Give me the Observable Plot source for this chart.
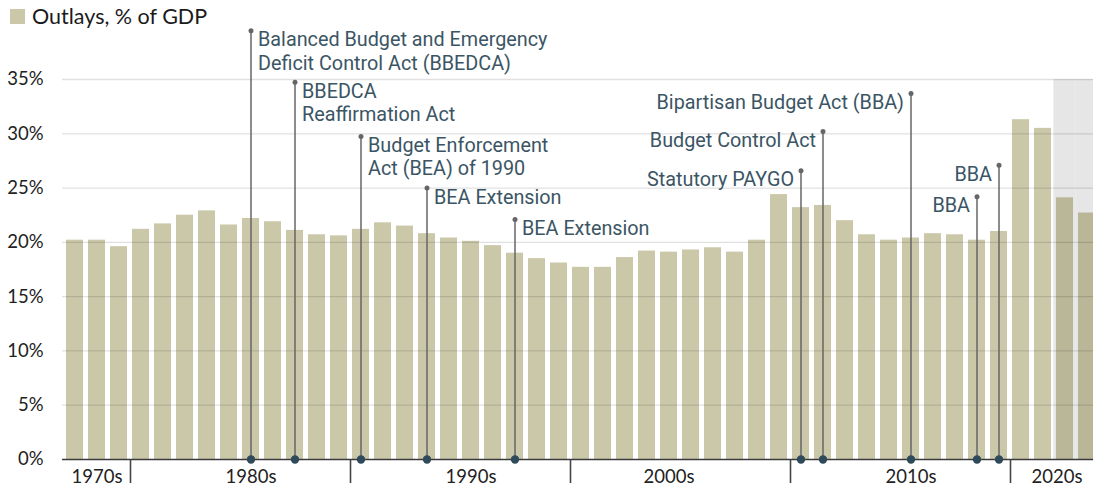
<!DOCTYPE html>
<html>
<head>
<meta charset="utf-8">
<script src="https://cdn.jsdelivr.net/npm/d3@7"></script>
<script src="https://cdn.jsdelivr.net/npm/@observablehq/plot@0.6"></script>
<style>
  html, body { margin: 0; padding: 0; background: #fff; }
  #wrap { position: relative; width: 1093px; height: 487px; overflow: hidden; font-family: Lato, sans-serif; }
  #legend { position: absolute; left: 10px; top: 3px; display: flex; align-items: center; font-size: 21.5px; color: #1a1a1a; z-index: 2; }
  #legend .sw { width: 15px; height: 15px; background: #cbc8aa; margin-right: 7px; }
  #chart { position: absolute; left: 0; top: 0; }
</style>
</head>
<body>
<div id="wrap">
  <div id="legend"><span class="sw"></span><span>Outlays, % of GDP</span></div>
  <div id="chart"></div>
</div>
<script>
// ---- data ----
const years = [1977,1978,1979,1980,1981,1982,1983,1984,1985,1986,
               1987,1988,1989,1990,1991,1992,1993,1994,1995,1996,
               1997,1998,1999,2000,2001,2002,2003,2004,2005,2006,
               2007,2008,2009,2010,2011,2012,2013,2014,2015,2016,
               2017,2018,2019,2020,2021,2022,2023];
const outlays = [20.2,20.2,19.6,21.2,21.7,22.5,22.9,21.6,22.2,21.9,
                 21.1,20.7,20.6,21.2,21.8,21.5,20.8,20.4,20.1,19.7,
                 19.0,18.5,18.1,17.7,17.7,18.6,19.2,19.1,19.3,19.5,
                 19.1,20.2,24.4,23.2,23.4,22.0,20.7,20.2,20.4,20.8,
                 20.7,20.2,21.0,31.3,30.5,24.1,22.7];
const shadedYears = [2022, 2023];

const actYears   = [1985, 1987, 1990, 1993, 1997, 2010, 2011, 2015, 2018, 2019];
const actLabels  = ["Balanced Budget and Emergency\nDeficit Control Act (BBEDCA)",
                    "BBEDCA\nReaffirmation Act",
                    "Budget Enforcement\nAct (BEA) of 1990",
                    "BEA Extension",
                    "BEA Extension",
                    "Statutory PAYGO",
                    "Budget Control Act",
                    "Bipartisan Budget Act (BBA)",
                    "BBA",
                    "BBA"];
const actHeights = [39.5, 34.75, 29.75, 25.0, 22.1, 26.6, 30.2, 33.7, 24.2, 27.1];
const actSide    = ["right","right","right","right","right","left","left","left","left","left"];

const decadeStarts = [1980, 1990, 2000, 2010, 2020];
const decadeLabels = ["1970s", "1980s", "1990s", "2000s", "2010s", "2020s"];
const decadeLabelYears = [1978, 1985, 1995, 2004, 2015, 2022];

const yTicks = [0, 5, 10, 15, 20, 25, 30, 35];

// ---- tables ----
const bars = years.map((y, i) => ({year: y, value: outlays[i], shaded: shadedYears.includes(y)}));
const acts = actYears.map((y, i) => ({year: y, label: actLabels[i], top: actHeights[i], side: actSide[i]}));
const decades = decadeLabels.map((l, i) => ({label: l, year: decadeLabelYears[i]}));

const textColor = "#3b5564";
const font = "Lato, sans-serif";
const annFont = "Roboto, sans-serif";

const chart = Plot.plot({
  width: 1093,
  height: 487,
  marginLeft: 62,
  marginRight: 0,
  marginTop: 79,
  marginBottom: 28,
  style: {fontFamily: font, fontSize: "18px", background: "transparent", overflow: "visible"},
  x: {type: "band", domain: years, range: [60.8, 1099.5], paddingInner: 0.23, paddingOuter: 0.115, axis: null},
  y: {domain: [0, 35], range: [459, 79], axis: null},
  marks: [
    // shaded projection area
    Plot.barY(shadedYears, {x: d => d, y1: 0, y2: 35, fill: "#e6e6e6", insetLeft: -2.6, insetRight: -2.6}),
    // bars
    Plot.barY(bars.filter(d => !d.shaded), {x: "year", y: "value", fill: "#cbc8aa"}),
    Plot.barY(bars.filter(d => d.shaded), {x: "year", y: "value", fill: "#bab698"}),
    // gridlines
    Plot.ruleY(yTicks.filter(d => d > 0), {y: d => d, stroke: "#000", strokeOpacity: 0.12, strokeWidth: 1.3}),
    // y axis labels
    Plot.axisY(yTicks, {tickSize: 0, tickPadding: 19, tickFormat: d => d + "%", fill: "#222", fontSize: 18.5, label: null}),
    // annotation stems
    Plot.ruleX(acts, {x: "year", y1: 0, y2: "top", stroke: "#666", strokeWidth: 1.5}),
    Plot.dot(acts, {x: "year", y: "top", r: 2.5, fill: "#666", stroke: null}),
    // baseline
    Plot.ruleY([0], {stroke: "#3a3a3a", strokeWidth: 1.5}),
    // decade separators
    Plot.ruleX(decadeStarts, {x: d => d, y1: 0, y2: 0, insetTop: 0, insetBottom: -24, dx: -10.5, stroke: "#444", strokeWidth: 1.6}),
    // bottom dots
    Plot.dot(acts, {x: "year", y: 0, r: 4.2, fill: "#2f4a5a", stroke: null}),
    // decade labels
    Plot.text(decades.filter(d => d.label !== "2020s"), {x: "year", y: 0, text: "label", dy: 18, lineAnchor: "middle", fill: "#222", fontSize: 18.5}),
    Plot.text(decades.filter(d => d.label === "2020s"), {x: "year", y: 0, text: "label", dy: 18, dx: -8, lineAnchor: "middle", fill: "#222", fontSize: 18.5}),
    // annotation labels
    Plot.text(acts.filter(d => d.side === "right"), {x: "year", y: "top", text: "label", textAnchor: "start", dx: 7, dy: -1, lineAnchor: "top", lineHeight: 1.18, fill: textColor, fontSize: 19.8, fontFamily: annFont}),
    Plot.text(acts.filter(d => d.side === "left"), {x: "year", y: "top", text: "label", textAnchor: "end", dx: -7, dy: -1, lineAnchor: "top", lineHeight: 1.18, fill: textColor, fontSize: 19.8, fontFamily: annFont})
  ]
});
document.getElementById("chart").appendChild(chart);
</script>
</body>
</html>
